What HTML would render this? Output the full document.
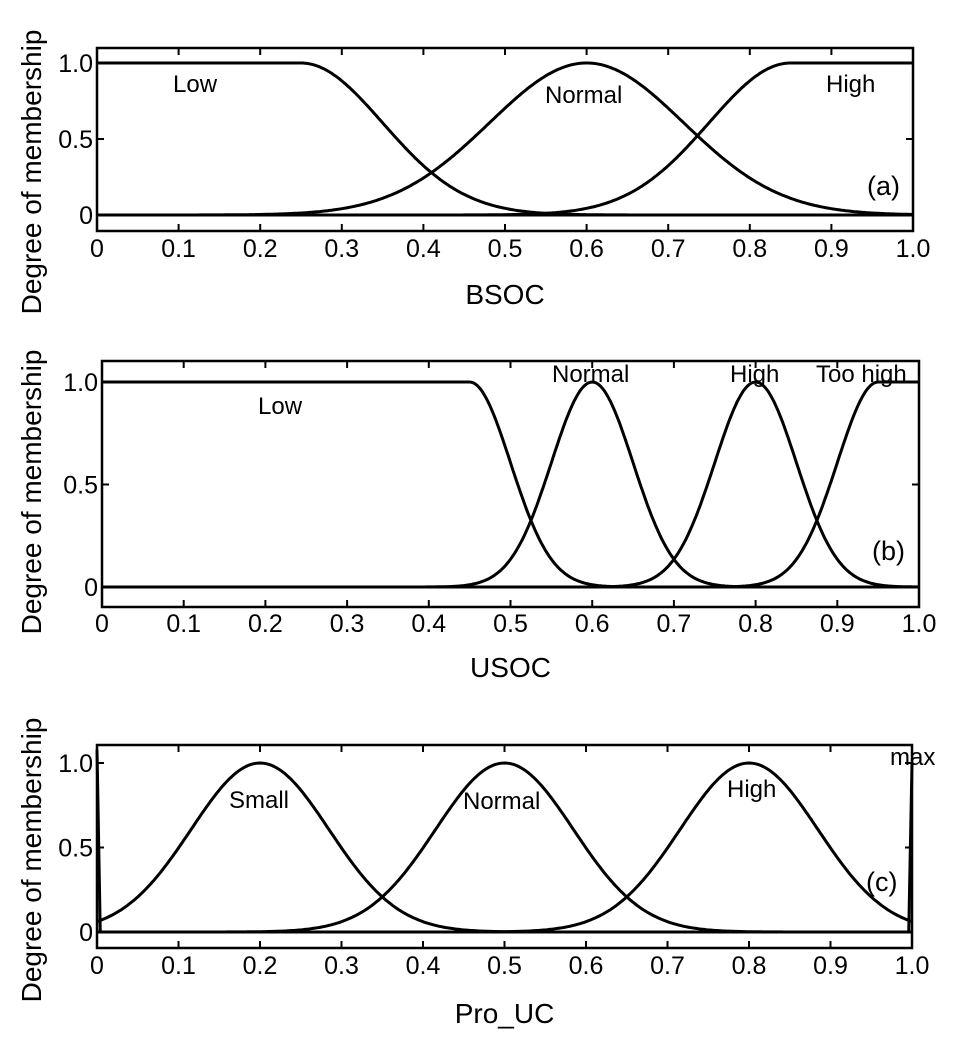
<!DOCTYPE html>
<html><head><meta charset="utf-8"><style>
html,body{margin:0;padding:0;background:#fff;}
svg{display:block;font-family:"Liberation Sans",Arial,sans-serif;}
</style></head><body>
<svg id="s" width="954" height="1044" viewBox="0 0 954 1044" xmlns="http://www.w3.org/2000/svg"></svg>
<script>
const S=document.getElementById('s');let h='';
function g(x,c,s){return Math.exp(-(x-c)*(x-c)/(2*s*s));}
function panel(o){
 const {L,R,T,B,y1,y0,tickY,xl,xlY,ylC,funcs,texts}=o;
 const X=v=>L+(R-L)*v, Y=v=>y0+(y1-y0)*v;
 h+=`<rect x="${L}" y="${T}" width="${R-L}" height="${B-T}" fill="none" stroke="#000" stroke-width="2.5"/>`;
 for(let i=0;i<=10;i++){const x=X(i/10);
  if(i>0&&i<10){h+=`<line x1="${x}" y1="${T}" x2="${x}" y2="${T+7}" stroke="#000" stroke-width="2"/><line x1="${x}" y1="${B}" x2="${x}" y2="${B-7}" stroke="#000" stroke-width="2"/>`;}
  const lab=i==0?'0':i==10?'1.0':'0.'+i;
  h+=`<text x="${x}" y="${tickY}" font-size="25" text-anchor="middle">${lab}</text>`;}
 [[0,'0'],[0.5,'0.5'],[1,'1.0']].forEach(([v,l])=>{const y=Y(v);
  h+=`<line x1="${L}" y1="${y}" x2="${L+7}" y2="${y}" stroke="#000" stroke-width="2"/><line x1="${R}" y1="${y}" x2="${R-7}" y2="${y}" stroke="#000" stroke-width="2"/>`;
  h+=`<text x="${L-4}" y="${y+9}" font-size="25" text-anchor="end">${l}</text>`;});
 h+=`<line x1="${L}" y1="${Y(0)}" x2="${R}" y2="${Y(0)}" stroke="#000" stroke-width="3"/>`;
 funcs.forEach(f=>{let d='';for(let i=0;i<=400;i++){const v=i/400;d+=(i?'L':'M')+X(v).toFixed(1)+','+Y(f(v)).toFixed(1);}
  h+=`<path d="${d}" fill="none" stroke="#000" stroke-width="3"/>`;});
 if(o.extra)h+=o.extra(X,Y);
 texts.forEach(([t,x,y,fs])=>{h+=`<text x="${x}" y="${y}" font-size="${fs||24}">${t}</text>`;});
 h+=`<text x="${(L+R)/2}" y="${xlY}" font-size="28" text-anchor="middle">${xl}</text>`;
 h+=`<text transform="translate(41,${ylC}) rotate(-90)" font-size="28" text-anchor="middle">Degree of membership</text>`;
}
panel({L:97,R:913,T:48,B:231,y1:63,y0:215,tickY:257,xl:'BSOC',xlY:304,ylC:172,
 funcs:[v=>v<0.25?1:g(v,0.25,0.1),v=>g(v,0.6,0.119),v=>v>0.85?1:g(v,0.85,0.1)],
 texts:[['Low',173,92],['Normal',545,103],['High',826,92],['(a)',867,195,27]]});
panel({L:102,R:919,T:361,B:607,y1:382,y0:587,tickY:632,xl:'USOC',xlY:677,ylC:492,
 funcs:[v=>v<0.45?1:g(v,0.45,0.05),v=>g(v,0.6,0.05),v=>g(v,0.8,0.05),v=>v>0.95?1:g(v,0.95,0.05)],
 texts:[['Low',258,414],['Normal',552,382],['High',730,382],['Too high',816,382],['(b)',872,560,27]]});
panel({L:97,R:912,T:745,B:948,y1:763,y0:932,tickY:974,xl:'Pro_UC',xlY:1023,ylC:860,
 funcs:[v=>g(v,0.2,0.0846),v=>g(v,0.5,0.0846),v=>g(v,0.8,0.0846)],
 extra:(X,Y)=>`<path d="M${X(0)},${Y(1.08)}L${X(0.004)},${Y(0)}" stroke="#000" stroke-width="3" fill="none"/><path d="M${X(0.996)},${Y(0)}L${X(1)},${Y(1)}" stroke="#000" stroke-width="3" fill="none"/>`,
 texts:[['Small',229,808],['Normal',463,809],['High',727,797],['max',890,765],['(c)',866,891,27]]});
S.innerHTML=h;
</script>
</body></html>
